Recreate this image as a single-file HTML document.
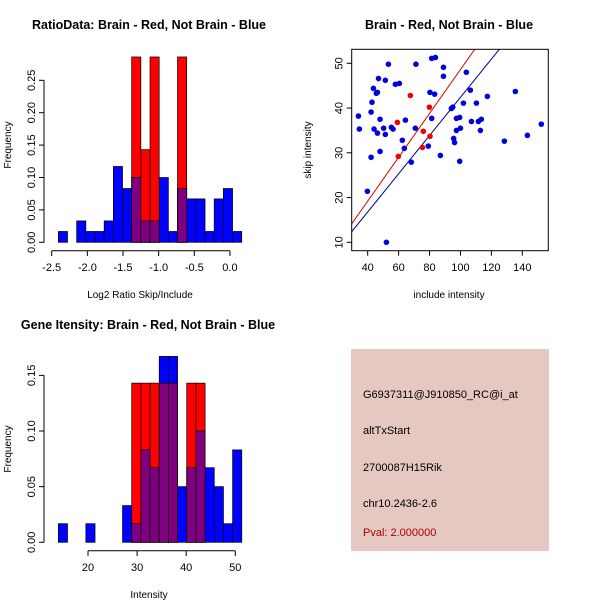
<!DOCTYPE html>
<html><head><meta charset="utf-8"><style>
body{margin:0;background:#fff}
svg{display:block;font-family:"Liberation Sans",sans-serif}
</style></head><body>
<svg id="c" width="600" height="600" xmlns="http://www.w3.org/2000/svg">
<rect width="600" height="600" fill="#fff"/>
<g id="p1"></g>
<g id="p2"></g>
<g id="p3"></g>
<g id="p4">
<rect x="351" y="349" width="198" height="202" fill="#e5c8c1"/>
<text x="363" y="398" font-size="11">G6937311@J910850_RC@i_at</text>
<text x="363" y="434" font-size="11">altTxStart</text>
<text x="363" y="471" font-size="11">2700087H15Rik</text>
<text x="363" y="507" font-size="11">chr10.2436-2.6</text>
<text x="363" y="536" font-size="11" fill="#b00000">Pval: 2.000000</text>
</g>
</svg>
<script>
// Panel 1 data
const ratioStart = -2.407, ratioWidth = 0.1286;
const ratioBlue = [0.0167,0,0.033,0.0167,0.0167,0.033,0.117,0.083,0.1,0.033,0.033,0.1,0.0167,0.083,0.067,0.067,0.0167,0.067,0.083,0.0167];
const ratioRed  = [0,0,0,0,0,0,0,0,0.286,0.143,0.286,0,0,0.286,0,0,0,0,0,0];
const ratioXTicks = [-2.5,-2.0,-1.5,-1.0,-0.5,0.0];
const ratioXLabels = ["-2.5","-2.0","-1.5","-1.0","-0.5","0.0"];
const ratioYTicks = [0,0.05,0.10,0.15,0.20,0.25];
const ratioYLabels = ["0.00","0.05","0.10","0.15","0.20","0.25"];
// Panel 2 data
const includeBlue = [34.0,34.6,43.7,42.8,42.2,42.2,39.8,44.1,46.3,45.6,46.3,47.0,48.0,48.0,50.3,51.4,51.4,53.4,52.1,55.3,56.4,57.9,60.5,64.4,62.4,63.7,68.2,71.2,70.8,79.2,80.3,81.4,83.3,81.4,83.8,87.0,89.0,89.0,94.1,95.0,95.6,96.2,97.4,97.4,99.5,100.0,99.5,101.9,103.8,106.4,107.1,110.3,111.6,113.5,112.9,117.4,128.4,135.5,143.3,152.3];
const skipBlue = [38.2,35.3,44.4,41.3,39.1,29.0,21.4,35.3,34.4,43.3,43.5,46.6,37.5,30.3,35.5,34.1,46.2,49.8,10.0,35.7,35.3,45.3,45.5,37.3,32.8,31.0,27.9,49.8,35.5,31.5,43.5,37.7,43.1,51.1,51.3,29.4,49.1,47.1,39.9,40.2,33.2,32.3,35.0,37.7,37.9,35.5,28.1,41.1,48.0,44.0,37.0,41.1,37.0,37.5,35.0,42.6,32.6,43.7,33.9,36.4];
const includeRed = [59.2,59.8,67.6,76.0,75.4,79.9,80.3];
const skipRed = [36.8,29.2,42.8,34.8,31.2,40.2,33.7];
const fitSlopes = [0.49,0.427];
const fitIntercepts = [-0.4,-0.3];
const scatterXTicks = [40,60,80,100,120,140];
const scatterYTicks = [10,20,30,40,50];
// Panel 3 data
const intStart = 13.96, intWidth = 1.868;
const intBlue = [0.0167,0,0,0.0167,0,0,0,0.033,0.0167,0.083,0.067,0.167,0.167,0.05,0.067,0.1,0.067,0.05,0.0167,0.083];
const intRed  = [0,0,0,0,0,0,0,0,0.143,0.143,0.143,0.143,0.143,0,0.143,0.143,0,0,0,0];
const intXTicks = [20,30,40,50];
const intYTicks = [0,0.05,0.10,0.15];
const intYLabels = ["0.00","0.05","0.10","0.15"];

const NS="http://www.w3.org/2000/svg";
function mk(parent,tag,attrs){const e=document.createElementNS(NS,tag);for(const k in attrs)e.setAttribute(k,attrs[k]);parent.appendChild(e);return e;}
function txt(parent,x,y,s,size,anchor,rot){const t=mk(parent,'text',{x:x,y:y,'font-size':size,'text-anchor':anchor||'middle'});if(rot)t.setAttribute('transform','rotate(-90 '+x+' '+y+')');t.textContent=s;return t;}

function hist(g,start,w,blue,red,sx,sy){
  for(let i=0;i<blue.length;i++){
    const x0=sx(start+i*w),x1=sx(start+(i+1)*w);
    if(blue[i]>0){const r=mk(g,'rect',{x:x0,y:sy(blue[i]),width:x1-x0,height:sy(0)-sy(blue[i]),fill:'#0000ff',stroke:'#000','stroke-width':0.7});
      
      }
  }
  for(let i=0;i<red.length;i++){
    const x0=sx(start+i*w),x1=sx(start+(i+1)*w);
    if(red[i]>0){const r=mk(g,'rect',{x:x0,y:sy(red[i]),width:x1-x0,height:sy(0)-sy(red[i]),fill:'#ff0000',stroke:'#000','stroke-width':0.7});
      
      
      const m=Math.min(red[i],blue[i]);
      if(m>0){const p=mk(g,'rect',{x:x0,y:sy(m),width:x1-x0,height:sy(0)-sy(m),fill:'#7f007f',stroke:'#000','stroke-width':0.7});
        
        }
    }
  }
}

// ---- Panel 1
(function(){
  const g=document.getElementById('p1');
  const sx=v=>51.7+(v+2.5)*71.3, sy=v=>242.3-v*648;
  hist(g,ratioStart,ratioWidth,ratioBlue,ratioRed,sx,sy);
  mk(g,'line',{x1:sx(-2.5),x2:sx(0),y1:250.7,y2:250.7,stroke:'#000'});
  ratioXTicks.forEach((v,i)=>{mk(g,'line',{x1:sx(v),x2:sx(v),y1:250.7,y2:256,stroke:'#000'});
    const l=txt(g,sx(v),271,ratioXLabels[i],'11');
    
    });
  mk(g,'line',{x1:44,x2:44,y1:sy(0),y2:sy(0.25),stroke:'#000'});
  ratioYTicks.forEach((v,i)=>{mk(g,'line',{x1:39,x2:44,y1:sy(v),y2:sy(v),stroke:'#000'});
    const l=txt(g,35,sy(v),ratioYLabels[i],'11','middle',true);
    
    });
  const tt=txt(g,149,29,'RatioData: Brain - Red, Not Brain - Blue','12.5');tt.setAttribute('font-weight','bold');
  
  
  const xl=txt(g,140,298,'Log2 Ratio Skip/Include','10');
  
  
  const yl=txt(g,11,145,'Frequency','10','middle',true);
  
  
})();

// ---- Panel 2
(function(){
  const g=document.getElementById('p2');
  const sx=v=>367.7+(v-40)*1.546, sy=v=>242.3-(v-10)*4.475;
  const L=351.7,R=548.3,T=49.3,B=250.7;
  const cp=mk(g,'clipPath',{id:'clip2'});mk(cp,'rect',{x:L,y:T,width:R-L,height:B-T});
  const cols=['#dd0000','#00008b'];
  fitSlopes.forEach((s,i)=>{const x0=29,x1=160;
    const ln=mk(g,'line',{x1:sx(x0),y1:sy(fitIntercepts[i]+s*x0),x2:sx(x1),y2:sy(fitIntercepts[i]+s*x1),stroke:cols[i],'stroke-width':1,'clip-path':'url(#clip2)'});
    
    });
  includeBlue.forEach((v,i)=>{const c=mk(g,'circle',{cx:sx(v),cy:sy(skipBlue[i]),r:2.8,fill:'#0000dd'});
    
    });
  includeRed.forEach((v,i)=>{const c=mk(g,'circle',{cx:sx(v),cy:sy(skipRed[i]),r:2.8,fill:'#ee0000'});
    
    });
  mk(g,'rect',{x:L,y:T,width:R-L,height:B-T,fill:'none',stroke:'#000'});
  scatterXTicks.forEach(v=>{mk(g,'line',{x1:sx(v),x2:sx(v),y1:B,y2:B+5,stroke:'#000'});
    const l=txt(g,sx(v),271,String(v),'11');
    
    });
  scatterYTicks.forEach(v=>{mk(g,'line',{x1:L-5,x2:L,y1:sy(v),y2:sy(v),stroke:'#000'});
    const l=txt(g,L-9,sy(v),String(v),'11','middle',true);
    
    });
  const tt=txt(g,449,29,'Brain - Red, Not Brain - Blue','12.5');tt.setAttribute('font-weight','bold');
  
  
  const xl=txt(g,449,298,'include intensity','10');
  
  
  const yl=txt(g,311,150,'skip intensity','10','middle',true);
  
  
})();

// ---- Panel 3
(function(){
  const g=document.getElementById('p3');
  const sx=v=>88+(v-20)*4.91, sy=v=>542.3-v*1113;
  hist(g,intStart,intWidth,intBlue,intRed,sx,sy);
  mk(g,'line',{x1:sx(20),x2:sx(50),y1:550.7,y2:550.7,stroke:'#000'});
  intXTicks.forEach(v=>{mk(g,'line',{x1:sx(v),x2:sx(v),y1:550.7,y2:556,stroke:'#000'});
    const l=txt(g,sx(v),571,String(v),'11');
    
    });
  mk(g,'line',{x1:44,x2:44,y1:sy(0),y2:sy(0.15),stroke:'#000'});
  intYTicks.forEach((v,i)=>{mk(g,'line',{x1:39,x2:44,y1:sy(v),y2:sy(v),stroke:'#000'});
    const l=txt(g,35,sy(v),intYLabels[i],'11','middle',true);
    
    });
  const tt=txt(g,148,329,'Gene Itensity: Brain - Red, Not Brain - Blue','12.5');tt.setAttribute('font-weight','bold');
  
  
  const xl=txt(g,149,598,'Intensity','10');
  
  
  const yl=txt(g,11,449,'Frequency','10','middle',true);
  
  
})();
</script>
</body></html>
